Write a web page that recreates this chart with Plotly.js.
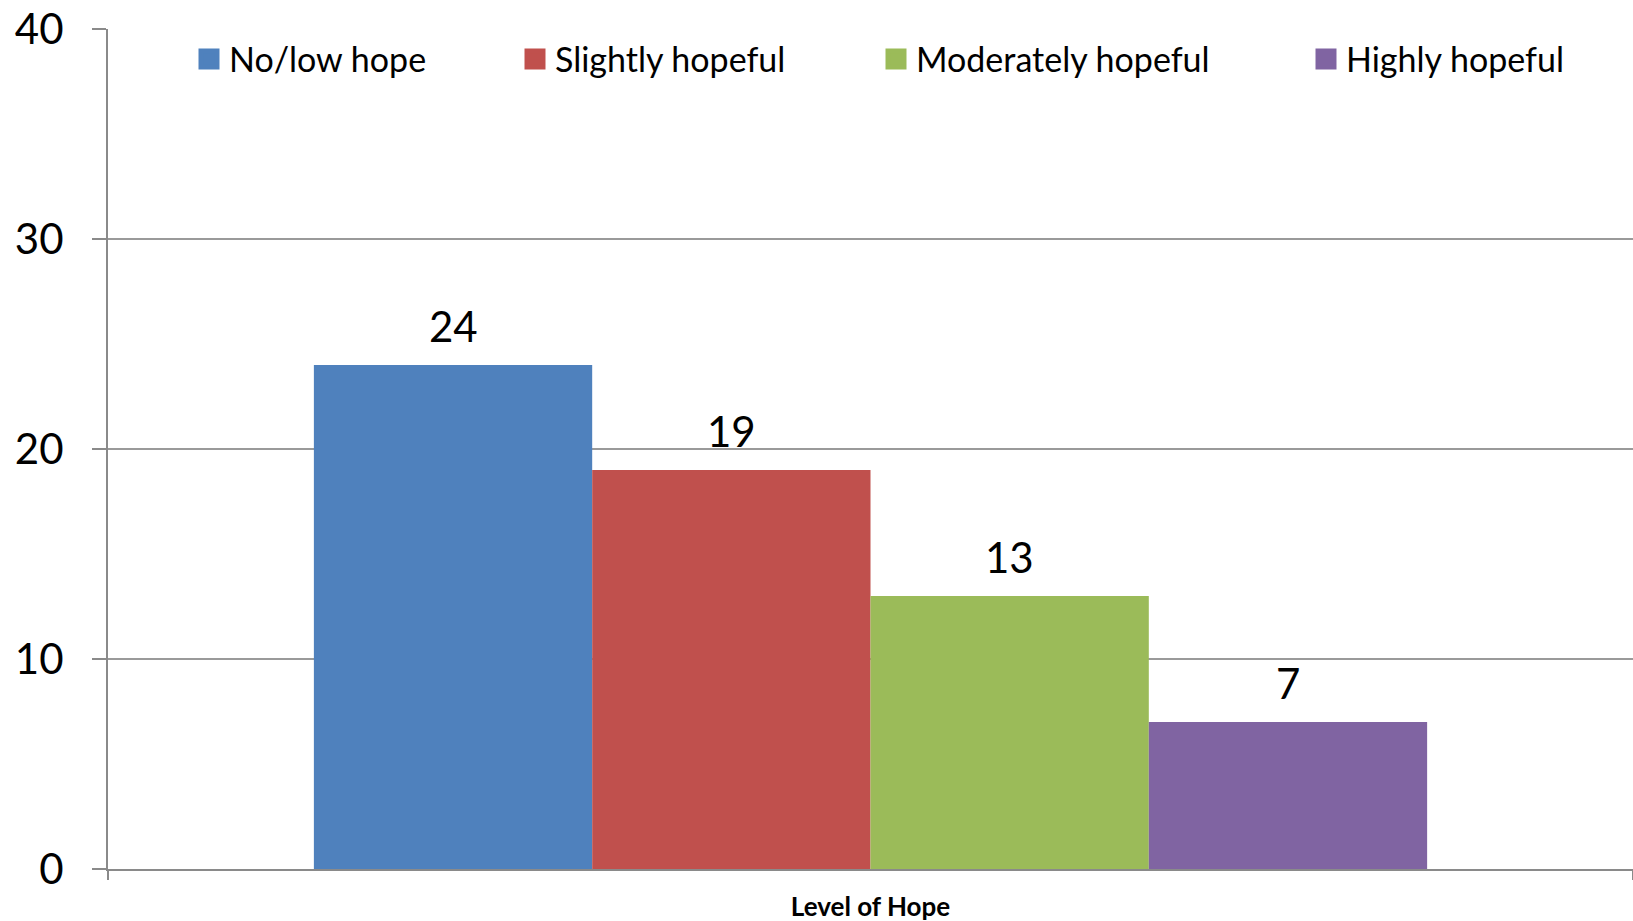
<!DOCTYPE html>
<html>
<head>
<meta charset="utf-8">
<script src="https://cdn.plot.ly/plotly-3.0.1.min.js"></script>
<style>
  html, body { margin: 0; padding: 0; background: #fff; }
  #chart { width: 1633px; height: 921px; }
</style>
</head>
<body>
<div id="chart"></div>
<script>
const category = ["Level of Hope"];
const seriesNames = ["No/low hope", "Slightly hopeful", "Moderately hopeful", "Highly hopeful"];
const seriesValues = [24, 19, 13, 7];
const seriesColors = ["#4F81BD", "#C0504D", "#9BBB59", "#8064A2"];
const yTicks = [0, 10, 20, 30, 40];

// left edge of each legend box (px), one legend per series
const legendLeft = [189, 515, 876, 1306];

const FONT = "Lato, 'Open Sans', sans-serif";
const W = 1633, H = 921;
const bargap = 0.27;

let traces = [];
let annotations = [];
const n = seriesNames.length;

seriesNames.forEach((name, i) => {
    traces.push({
        type: "bar",
        name: name,
        x: category,
        y: [seriesValues[i]],
        marker: { color: seriesColors[i] },
        showlegend: false,
        hoverinfo: "none"
    });
    // legend-only entry (bigger square than the bar legend symbol)
    traces.push({
        type: "scatter",
        mode: "markers",
        name: name,
        x: [null],
        y: [null],
        marker: { symbol: "square", size: 16, color: seriesColors[i], line: { color: seriesColors[i], width: 5 } },
        legend: i === 0 ? "legend" : "legend" + (i + 1),
        hoverinfo: "none"
    });
    // value label above each bar
    const w = (1 - bargap) / n;
    annotations.push({
        xref: "x", yref: "y",
        x: -0.5 + bargap / 2 + (i + 0.5) * w,
        y: seriesValues[i],
        text: String(seriesValues[i]),
        showarrow: false,
        yanchor: "middle",
        yshift: 39,
        font: { family: FONT, size: 42, color: "#000" }
    });
});

const layout = {
    width: W,
    height: H,
    margin: { l: 108, r: 0, t: 29, b: 52, autoexpand: false },
    paper_bgcolor: "#fff",
    plot_bgcolor: "#fff",
    barmode: "group",
    bargap: bargap,
    bargroupgap: 0,
    font: { family: FONT, color: "#000" },
    xaxis: {
        type: "category",
        tickson: "boundaries",
        ticks: "outside",
        ticklen: 9,
        tickwidth: 2,
        tickcolor: "#8a8a8a",
        showline: true,
        linecolor: "#8a8a8a",
        linewidth: 2,
        showgrid: false,
        zeroline: false,
        automargin: false,
        ticklabelstandoff: 14,
        tickfont: { family: FONT, size: 26, color: "#000", weight: "bold" }
    },
    yaxis: {
        range: [0, 40],
        tickvals: yTicks,
        ticktext: yTicks.map(String),
        ticks: "outside",
        ticklen: 14,
        tickwidth: 2,
        tickcolor: "#8a8a8a",
        showline: true,
        linecolor: "#8a8a8a",
        linewidth: 2,
        showgrid: true,
        gridcolor: "#9a9a9a",
        gridwidth: 2,
        zeroline: false,
        automargin: false,
        ticklabelstandoff: 20,
        tickfont: { family: FONT, size: 42, color: "#000" }
    },
    annotations: annotations
};

legendLeft.forEach((lx, i) => {
    layout[i === 0 ? "legend" : "legend" + (i + 1)] = {
        xref: "container", yref: "container",
        x: lx / W,
        y: 1 - 59.5 / H,
        xanchor: "left",
        yanchor: "middle",
        orientation: "h",
        bgcolor: "rgba(0,0,0,0)",
        borderwidth: 0,
        font: { family: FONT, size: 34, color: "#000" }
    };
});

Plotly.newPlot("chart", traces, layout, { displayModeBar: false, staticPlot: true });
</script>
</body>
</html>
